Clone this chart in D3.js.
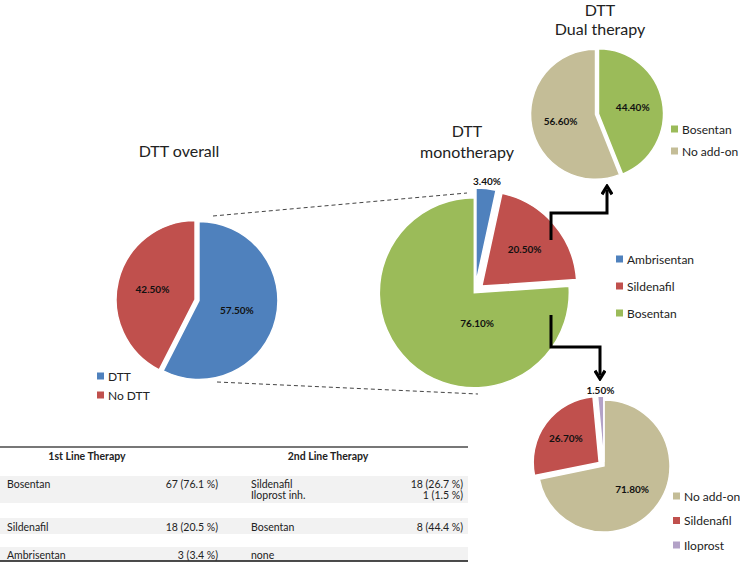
<!DOCTYPE html>
<html>
<head>
<meta charset="utf-8">
<script src="https://cdn.jsdelivr.net/npm/d3@7"></script>
<style>
  body { margin: 0; background: #fff; }
  svg { display: block; font-family: Lato, "Open Sans", sans-serif; }
</style>
</head>
<body>
<svg id="chart" width="740" height="562"></svg>
<script>
// pie data
var overallLabels = ["DTT", "No DTT"];
var overallValues = [57.5, 42.5];

var monoLabels = ["Ambrisentan", "Sildenafil", "Bosentan"];
var monoValues = [3.4, 20.5, 76.1];

var dualLabels = ["Bosentan", "No add-on"];
var dualValues = [44.4, 56.6];

var addonLabels = ["No add-on", "Sildenafil", "Iloprost"];
var addonValues = [71.8, 26.7, 1.5];

// table data
var tableHeaders = ["1st Line Therapy", "2nd Line Therapy"];
var firstLine = ["Bosentan", "Sildenafil", "Ambrisentan"];
var firstCount = ["67 (76.1 %)", "18 (20.5 %)", "3 (3.4 %)"];
var secondLine = [["Sildenafil", "Iloprost inh."], ["Bosentan"], ["none"]];
var secondCount = [["18 (26.7 %)", "1 (1.5 %)"], ["8 (44.4 %)"], [""]];

var color = d3.scaleOrdinal()
    .domain(["DTT", "No DTT", "Ambrisentan", "Sildenafil", "Bosentan", "No add-on", "Iloprost"])
    .range(["#4f81bd", "#c0504d", "#4f81bd", "#c0504d", "#9bbb59", "#c4bd97", "#b3a2c7"]);

var svg = d3.select("#chart");

var pieLayout = d3.pie().sort(null).value(function(d){ return d.v; });

// draws one pie; explode = offset per slice, lab = label radius (fraction) and optional angle
function drawPie(labels, values, cx, cy, r, explode, lab) {
    var data = labels.map(function(l, i){ return {k: l, v: values[i]}; });
    var arcs = pieLayout(data);
    var arc = d3.arc().innerRadius(0).outerRadius(r);
    var g = svg.append("g").attr("transform", "translate(" + cx + "," + cy + ")");

    g.selectAll("path")
        .data(arcs)
        .enter()
        .append("path")
        .attr("d", arc)
        .attr("fill", function(d){ return color(d.data.k); })
        .attr("stroke", "#fff")
        .attr("stroke-width", 1.5)
        .attr("transform", function(d, i){
            var a = (d.startAngle + d.endAngle) / 2;
            return "translate(" + (Math.sin(a) * explode[i]) + "," + (-Math.cos(a) * explode[i]) + ")";
        });

    g.selectAll("text")
        .data(arcs)
        .enter()
        .append("text")
        .attr("x", function(d, i){
            var a = lab[i].a != null ? lab[i].a * Math.PI / 180 : (d.startAngle + d.endAngle) / 2;
            return Math.sin(a) * r * lab[i].r;
        })
        .attr("y", function(d, i){
            var a = lab[i].a != null ? lab[i].a * Math.PI / 180 : (d.startAngle + d.endAngle) / 2;
            return -Math.cos(a) * r * lab[i].r;
        })
        .attr("text-anchor", "middle")
        .attr("dominant-baseline", "central")
        .attr("font-size", 10)
        .attr("font-weight", "bold")
        .attr("fill", "#111")
        .text(function(d){ return d3.format(".2f")(d.data.v) + "%"; });
}

function drawLegend(labels, x, y0, step) {
    var g = svg.append("g");
    var items = g.selectAll("g")
        .data(labels)
        .enter()
        .append("g")
        .attr("transform", function(d, i){ return "translate(" + x + "," + (y0 + i * step) + ")"; });
    items.append("rect")
        .attr("x", 0).attr("y", -3.5)
        .attr("width", 7).attr("height", 7)
        .attr("fill", function(d){ return color(d); });
    items.append("text")
        .attr("x", 11)
        .attr("dominant-baseline", "central")
        .attr("font-size", 12)
        .attr("fill", "#222")
        .text(function(d){ return d; });
}

function title(lines, x, y, step) {
    svg.selectAll(null)
        .data(lines)
        .enter()
        .append("text")
        .attr("x", x)
        .attr("y", function(d, i){ return y + i * step; })
        .attr("text-anchor", "middle")
        .attr("dominant-baseline", "central")
        .attr("font-size", 16)
        .attr("fill", "#222")
        .text(function(d){ return d; });
}

// connector dashes
svg.append("line").attr("x1", 213).attr("y1", 216).attr("x2", 467).attr("y2", 193)
    .attr("stroke", "#444").attr("stroke-dasharray", "4,3");
svg.append("line").attr("x1", 217).attr("y1", 382).attr("x2", 478).attr("y2", 394)
    .attr("stroke", "#444").attr("stroke-dasharray", "4,3");

drawPie(overallLabels, overallValues, 197, 300, 79, [2, 2], [{r: 0.52}, {r: 0.58}]);
drawPie(monoLabels, monoValues, 475, 292, 95, [9, 9, 1], [{r: 1.18}, {r: 0.69}, {r: 0.33, a: 176}]);
drawPie(dualLabels, dualValues, 597, 114, 65, [1.5, 1.5], [{r: 0.56}, {r: 0.57}]);
drawPie(addonLabels, addonValues, 604, 466, 66, [0, 6, 4], [{r: 0.55}, {r: 0.72}, {r: 1.16}]);

title(["DTT overall"], 179, 150, 0);
title(["DTT", "monotherapy"], 467, 130, 21);
title(["DTT", "Dual therapy"], 600, 9, 19);

drawLegend(overallLabels, 97, 376, 19);
drawLegend(monoLabels, 616, 259, 27);
drawLegend(dualLabels, 671, 129, 22);
drawLegend(addonLabels, 673, 496, 24.5);

// arrows
svg.append("defs").append("marker")
    .attr("id", "head")
    .attr("viewBox", "0 0 10 10")
    .attr("refX", 5).attr("refY", 5)
    .attr("markerWidth", 4.2).attr("markerHeight", 4.2)
    .attr("orient", "auto")
    .append("path")
    .attr("d", "M1.5,1 L8,5 L1.5,9")
    .attr("fill", "none")
    .attr("stroke", "#000")
    .attr("stroke-width", 2.6);

var arrowLine = d3.line();
svg.append("path")
    .attr("d", arrowLine([[551, 240], [551, 213], [607, 213], [607, 190]]))
    .attr("fill", "none").attr("stroke", "#000").attr("stroke-width", 3)
    .attr("marker-end", "url(#head)");
svg.append("path")
    .attr("d", arrowLine([[551, 315], [551, 347], [600, 347], [600, 375]]))
    .attr("fill", "none").attr("stroke", "#000").attr("stroke-width", 3)
    .attr("marker-end", "url(#head)");

// table
var tbl = svg.append("g").attr("font-size", 10.5).attr("fill", "#222");
var bands = [[476, 503], [518, 534], [547, 561]];
tbl.selectAll("rect")
    .data(bands)
    .enter()
    .append("rect")
    .attr("x", 0).attr("width", 468)
    .attr("y", function(d){ return d[0]; })
    .attr("height", function(d){ return d[1] - d[0]; })
    .attr("fill", "#f2f2f2");

tbl.append("line").attr("x1", 0).attr("x2", 468).attr("y1", 447).attr("y2", 447)
    .attr("stroke", "#777").attr("stroke-width", 2);
tbl.append("line").attr("x1", 0).attr("x2", 468).attr("y1", 561).attr("y2", 561)
    .attr("stroke", "#111").attr("stroke-width", 1.5);

tbl.selectAll(".hdr")
    .data(tableHeaders)
    .enter()
    .append("text")
    .attr("x", function(d, i){ return i == 0 ? 87 : 328; })
    .attr("y", 456)
    .attr("text-anchor", "middle")
    .attr("dominant-baseline", "central")
    .attr("font-weight", "bold")
    .text(function(d){ return d; });

var rowY = [484, 527, 555];
var subStep = 11;
firstLine.forEach(function(name, i){
    tbl.append("text").attr("x", 7).attr("y", rowY[i]).attr("dominant-baseline", "central").text(name);
    tbl.append("text").attr("x", 218).attr("y", rowY[i]).attr("text-anchor", "end")
        .attr("dominant-baseline", "central").text(firstCount[i]);
    secondLine[i].forEach(function(s, j){
        tbl.append("text").attr("x", 251).attr("y", rowY[i] + j * subStep)
            .attr("dominant-baseline", "central").text(s);
        tbl.append("text").attr("x", 463).attr("y", rowY[i] + j * subStep).attr("text-anchor", "end")
            .attr("dominant-baseline", "central").text(secondCount[i][j]);
    });
});
</script>
</body>
</html>
